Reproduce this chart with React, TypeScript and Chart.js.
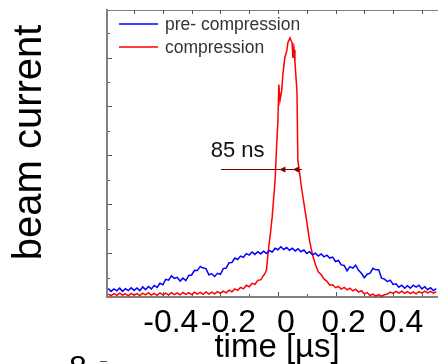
import React, { useEffect, useRef } from 'react';
import { Chart, registerables } from 'chart.js';

Chart.register(...registerables);

const FONT = "'Liberation Sans', Arial, Helvetica, sans-serif";
Chart.defaults.font.family = FONT;

// ---- data ----
const seriesNames = ['pre- compression', 'compression'];
const seriesColors = ['#0000ff', '#ff0000'];

const blueTime = [
  -0.59, -0.58, -0.57, -0.56, -0.55, -0.54, -0.53, -0.52, -0.51, -0.5,
  -0.49, -0.48, -0.47, -0.46, -0.45, -0.44, -0.43, -0.42, -0.41, -0.4,
  -0.39, -0.38, -0.37, -0.36, -0.35, -0.34, -0.33, -0.32, -0.31, -0.3,
  -0.29, -0.28, -0.27, -0.26, -0.25, -0.24, -0.23, -0.22, -0.21, -0.2,
  -0.19, -0.18, -0.17, -0.16, -0.15, -0.14, -0.13, -0.12, -0.11, -0.1,
  -0.09, -0.08, -0.07, -0.06, -0.05, -0.04, -0.03, -0.02, -0.01, 0,
  0.01, 0.02, 0.03, 0.04, 0.05, 0.06, 0.07, 0.08, 0.09, 0.1,
  0.11, 0.12, 0.13, 0.14, 0.15, 0.16, 0.17, 0.18, 0.19, 0.2,
  0.21, 0.22, 0.23, 0.24, 0.25, 0.26, 0.27, 0.28, 0.29, 0.3,
  0.31, 0.32, 0.33, 0.34, 0.35, 0.36, 0.37, 0.38, 0.39, 0.4,
  0.41, 0.42, 0.43, 0.44, 0.45, 0.46, 0.47, 0.48, 0.49, 0.5,
  0.51, 0.52, 0.53, 0.54, 0.55,
];
const blueCurrent = [
  -0.43, -0.55, -0.45, -0.53, -0.42, -0.55, -0.44, -0.52, -0.4, -0.51,
  -0.41, -0.52, -0.37, -0.48, -0.35, -0.45, -0.31, -0.39, -0.22, -0.28,
  -0.06, -0.09, 0.08, -0.02, 0.02, -0.13, -0.01, -0.11, 0.1, 0.12,
  0.31, 0.3, 0.47, 0.4, 0.38, 0.13, 0.17, 0.06, 0.19, 0.15,
  0.38, 0.4, 0.62, 0.63, 0.81, 0.75, 0.89, 0.84, 0.99, 0.93,
  1.06, 0.96, 1.07, 0.98, 1.09, 1.0, 1.12, 1.06, 1.21, 1.15,
  1.27, 1.16, 1.24, 1.13, 1.21, 1.1, 1.19, 1.07, 1.14, 1.0,
  1.07, 0.94, 1.01, 0.89, 0.98, 0.86, 0.93, 0.81, 0.85, 0.67,
  0.71, 0.53, 0.51, 0.29, 0.46, 0.4, 0.52, 0.31, 0.19, 0.01,
  0.15, 0.19, 0.39, 0.33, 0.33, -0.01, -0.05, -0.15, -0.09, -0.27,
  -0.24, -0.38, -0.3, -0.42, -0.32, -0.42, -0.3, -0.38, -0.3, -0.45,
  -0.36, -0.48, -0.4, -0.52, -0.44,
];

const redTime = [
  -0.59, -0.58, -0.57, -0.56, -0.55, -0.54, -0.53, -0.52, -0.51, -0.5,
  -0.49, -0.48, -0.47, -0.46, -0.45, -0.44, -0.43, -0.42, -0.41, -0.4,
  -0.39, -0.38, -0.37, -0.36, -0.35, -0.34, -0.33, -0.32, -0.31, -0.3,
  -0.29, -0.28, -0.27, -0.26, -0.25, -0.24, -0.23, -0.22, -0.21, -0.2,
  -0.19, -0.18, -0.17, -0.16, -0.15, -0.14, -0.13, -0.12, -0.11, -0.1,
  -0.09, -0.08, -0.07, -0.06, -0.05, -0.045, -0.04, -0.035, -0.03, -0.025,
  -0.02, -0.015, -0.01, -0.005, 0, 0.003, 0.007, 0.013, 0.017, 0.024,
  0.031, 0.035, 0.042, 0.049, 0.052, 0.056, 0.059, 0.066, 0.069, 0.076,
  0.083, 0.09, 0.1, 0.11, 0.12, 0.13, 0.14, 0.15, 0.16, 0.17,
  0.18, 0.19, 0.2, 0.21, 0.22, 0.23, 0.24, 0.25, 0.26, 0.27,
  0.28, 0.29, 0.3, 0.31, 0.32, 0.33, 0.34, 0.35, 0.36, 0.37,
  0.38, 0.39, 0.4, 0.41, 0.42, 0.43, 0.44, 0.45, 0.46, 0.47,
  0.48, 0.49, 0.5, 0.51, 0.52, 0.53, 0.54, 0.55,
];
const redCurrent = [
  -0.66, -0.72, -0.64, -0.71, -0.62, -0.7, -0.65, -0.73, -0.63, -0.7,
  -0.64, -0.72, -0.62, -0.69, -0.6, -0.7, -0.63, -0.71, -0.61, -0.69,
  -0.62, -0.7, -0.6, -0.68, -0.61, -0.69, -0.59, -0.67, -0.6, -0.68,
  -0.58, -0.66, -0.59, -0.67, -0.57, -0.66, -0.58, -0.65, -0.56, -0.63,
  -0.54, -0.61, -0.5, -0.57, -0.45, -0.51, -0.39, -0.45, -0.3, -0.36,
  -0.22, -0.26, -0.1, -0.08, 0.1, 0.18, 0.32, 0.95, 1.45, 1.95,
  2.5, 3.25, 4.0, 5.3, 6.45, 7.9, 7.25, 7.65, 8.3, 9.0,
  9.3, 9.63, 9.8, 9.59, 8.98, 9.31, 8.82, 7.6, 4.82, 4.2,
  3.59, 3.06, 2.3, 1.5, 0.95, 0.55, 0.25, 0.14, -0.04, -0.14,
  -0.3, -0.28, -0.4, -0.35, -0.46, -0.39, -0.49, -0.42, -0.53, -0.46,
  -0.58, -0.52, -0.65, -0.6, -0.72, -0.66, -0.74, -0.68, -0.75, -0.69,
  -0.66, -0.58, -0.63, -0.55, -0.62, -0.54, -0.63, -0.56, -0.64, -0.57,
  -0.65, -0.56, -0.62, -0.54, -0.61, -0.55, -0.62, -0.56,
];

const xTickValues = [-0.4, -0.2, 0, 0.2, 0.4];
const xTickLabels = ['-0.4', '-0.2', '0', '0.2', '0.4'];
const xMinorTickValues = [-0.5, -0.4, -0.3, -0.2, -0.1, 0, 0.1, 0.2, 0.3, 0.4, 0.5];
const yTickValues = [0, 1, 2, 3, 4, 5, 6, 7, 8, 9, 10];

const xMin = -0.594;
const xMax = 0.556;
const yMin = -0.78;
const yMax = 10.94;

// FWHM annotation (data units)
const fwhmText = '85 ns';
const fwhmTextAt = { x: -0.14, y: 5.18 };
const fwhmLine = { from: -0.198, to: 0.083, y: 4.44 };
const fwhmHeads = [0.005, 0.052];

const axisGray = '#808080';

const ticksPlugin = {
  id: 'inwardTicks',
  afterDraw(chart: any) {
    const { ctx, chartArea: ca, scales } = chart;
    const x = scales.x;
    const y = scales.y;
    ctx.save();
    ctx.strokeStyle = '#555';
    ctx.lineWidth = 1;
    ctx.beginPath();
    xMinorTickValues.forEach((v) => {
      const px = Math.round(x.getPixelForValue(v)) + 0.5;
      const major = xTickValues.some((m) => Math.abs(m - v) < 1e-9);
      ctx.moveTo(px, ca.bottom - 1);
      ctx.lineTo(px, ca.bottom - (major ? 5 : 3));
      ctx.moveTo(px, ca.top);
      ctx.lineTo(px, ca.top + 4);
    });
    yTickValues.forEach((v, i) => {
      const py = Math.round(y.getPixelForValue(v)) + 0.5;
      ctx.moveTo(ca.left + 1, py);
      ctx.lineTo(ca.left + (i % 2 === 1 ? 5 : 3), py);
    });
    ctx.stroke();
    ctx.restore();
  },
};

// Legend drawn inside the plot area, stacked vertically (top-left)
const insideLegendPlugin = {
  id: 'insideLegend',
  afterDraw(chart: any) {
    const { ctx, chartArea: ca } = chart;
    ctx.save();
    ctx.font = `17.5px ${FONT}`;
    ctx.textAlign = 'left';
    ctx.textBaseline = 'middle';
    chart.data.datasets.forEach((ds: any, i: number) => {
      const yy = Math.round(ca.top + 14 + i * 23);
      const x0 = ca.left + 12;
      ctx.strokeStyle = seriesColors[i];
      ctx.lineWidth = 1.5;
      ctx.beginPath();
      ctx.moveTo(x0, yy);
      ctx.lineTo(x0 + 39, yy);
      ctx.stroke();
      ctx.fillStyle = '#333';
      ctx.fillText(ds.label, x0 + 46, yy + 1);
    });
    ctx.restore();
  },
};

const fwhmPlugin = {
  id: 'fwhm',
  afterDatasetsDraw(chart: any) {
    const { ctx, scales } = chart;
    const x = scales.x;
    const y = scales.y;
    const x0 = x.getPixelForValue(fwhmLine.from);
    const x1 = x.getPixelForValue(fwhmLine.to);
    const yy = Math.round(y.getPixelForValue(fwhmLine.y)) + 0.5;
    ctx.save();
    ctx.strokeStyle = '#800000';
    ctx.fillStyle = '#800000';
    ctx.lineWidth = 1;
    ctx.beginPath();
    ctx.moveTo(x0, yy);
    ctx.lineTo(x1, yy);
    ctx.stroke();
    fwhmHeads.forEach((v) => {
      const hx = x.getPixelForValue(v);
      ctx.beginPath();
      ctx.moveTo(hx, yy);
      ctx.lineTo(hx + 6, yy - 3);
      ctx.lineTo(hx + 6, yy + 3);
      ctx.closePath();
      ctx.fill();
    });
    ctx.fillStyle = '#111';
    ctx.font = `22px ${FONT}`;
    ctx.textAlign = 'center';
    ctx.textBaseline = 'middle';
    ctx.fillText(fwhmText, x.getPixelForValue(fwhmTextAt.x), y.getPixelForValue(fwhmTextAt.y));
    ctx.restore();
  },
};

export default function App() {
  const ref = useRef<HTMLCanvasElement>(null);

  useEffect(() => {
    const canvas = ref.current;
    if (!canvas) return;
    const chart = new Chart(canvas, {
      type: 'line',
      data: {
        datasets: [
          {
            label: seriesNames[0],
            data: blueTime.map((t, i) => ({ x: t, y: blueCurrent[i] })),
            borderColor: seriesColors[0],
            backgroundColor: seriesColors[0],
            borderWidth: 1.5,
            pointRadius: 0,
            tension: 0,
            fill: false,
          },
          {
            label: seriesNames[1],
            data: redTime.map((t, i) => ({ x: t, y: redCurrent[i] })),
            borderColor: seriesColors[1],
            backgroundColor: seriesColors[1],
            borderWidth: 1.5,
            pointRadius: 0,
            tension: 0,
            fill: false,
          },
        ],
      },
      options: {
        responsive: false,
        animation: false,
        devicePixelRatio: 1,
        layout: { padding: 0 },
        plugins: {
          tooltip: { enabled: false },
          legend: { display: false },
        },
        scales: {
          x: {
            type: 'linear',
            position: 'bottom',
            min: xMin,
            max: xMax,
            afterBuildTicks: (scale: any) => {
              scale.ticks = xTickValues.map((value) => ({ value }));
            },
            ticks: {
              callback: (_v: any, index: number) => xTickLabels[index] ?? '',
              autoSkip: false,
              maxRotation: 0,
              minRotation: 0,
              padding: 7,
              labelOffset: 8,
              color: '#000',
              font: { size: 32, family: FONT },
            },
            grid: { drawOnChartArea: false, drawTicks: false },
            border: { color: axisGray, width: 2 },
            title: {
              display: true,
              text: ' time [µs]',
              color: '#000',
              font: { size: 33, family: FONT, lineHeight: 1 },
              padding: { top: 0, bottom: 0 },
            },
            afterFit: (scale: any) => {
              scale.height = 67;
            },
          },
          xTop: {
            type: 'linear',
            position: 'top',
            min: xMin,
            max: xMax,
            ticks: { display: false },
            grid: { drawOnChartArea: false, drawTicks: false },
            border: { color: axisGray, width: 1 },
            afterFit: (scale: any) => {
              scale.height = 10;
            },
          },
          y: {
            type: 'linear',
            position: 'left',
            min: yMin,
            max: yMax,
            ticks: { display: false },
            grid: { drawOnChartArea: false, drawTicks: false },
            border: { color: axisGray, width: 2 },
            title: {
              display: true,
              text: '  beam current',
              color: '#000',
              font: { size: 40, family: FONT },
              padding: { top: 6, bottom: 0 },
            },
            afterFit: (scale: any) => {
              scale.width = 107;
            },
          },
        },
      } as any,
      plugins: [ticksPlugin, fwhmPlugin, insideLegendPlugin],
    });
    return () => chart.destroy();
  }, []);

  return (
    <div
      style={{
        position: 'fixed',
        left: 0,
        top: 0,
        width: 438,
        height: 364,
        overflow: 'hidden',
        background: '#fff',
      }}
    >
      <canvas ref={ref} width={438} height={364} style={{ display: 'block', width: 438, height: 364 }} />
      <div
        style={{
          position: 'absolute',
          left: 69,
          top: 351,
          font: `32px ${FONT}`,
          lineHeight: '32px',
          color: '#000',
        }}
      >
        8
      </div>
      <div style={{ position: 'absolute', left: 100, top: 361, width: 7, height: 1, background: '#555' }} />
    </div>
  );
}
